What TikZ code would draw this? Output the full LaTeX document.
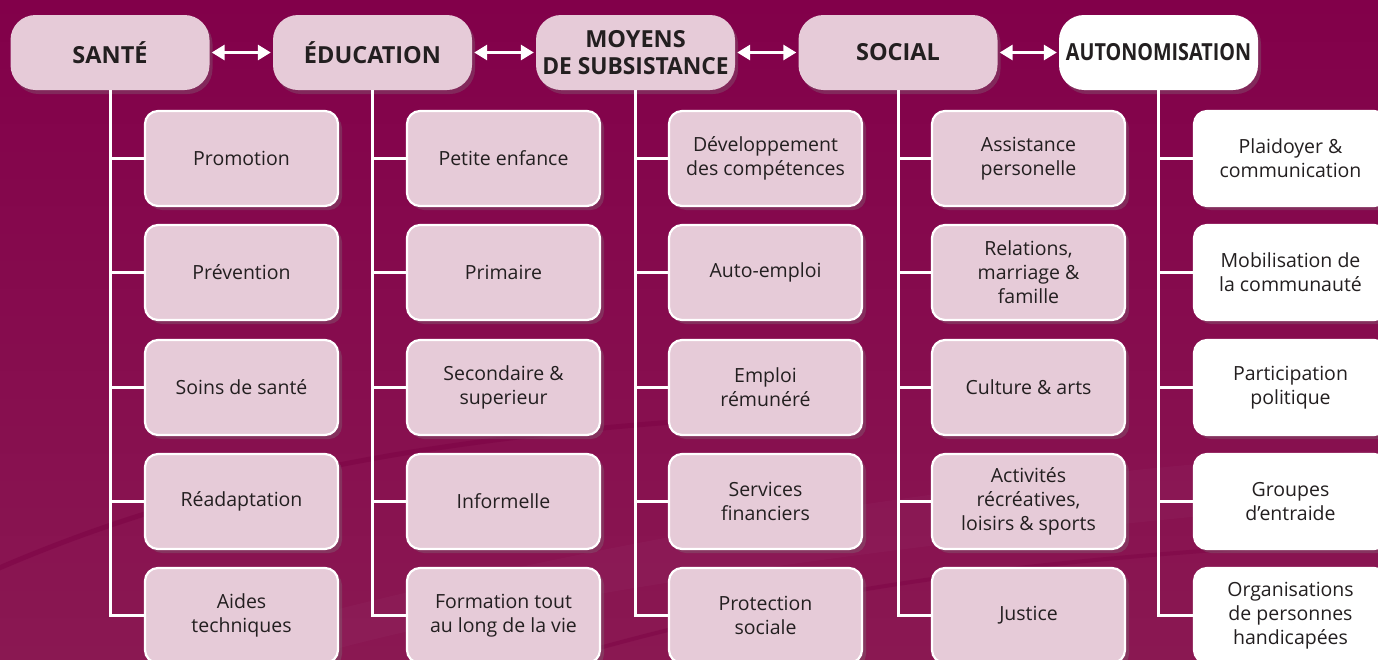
\documentclass[tikz,border=0pt]{standalone}
\usepackage{fontspec}
\setmainfont{Open Sans}
\usetikzlibrary{arrows.meta,shadows,calc}
\definecolor{bgtop}{HTML}{82004A}
\definecolor{bgbot}{HTML}{8A1852}
\definecolor{pinkbox}{HTML}{E6CBD8}
\definecolor{ink}{HTML}{231F20}
\definecolor{swoosh}{HTML}{7A0042}
\tikzset{
  headbox/.style={rounded corners=25pt, minimum width=199pt, minimum height=75pt,
    fill=pinkbox, text=ink, align=center, inner sep=0pt,
    font=\fontsize{23.5pt}{27pt}\selectfont\bfseries,
    drop shadow={opacity=0.3, shadow xshift=3pt, shadow yshift=-4pt}},
  childbox/.style={rounded corners=13pt, minimum width=193pt, minimum height=95pt,
    fill=pinkbox, draw=white, line width=2.2pt, text=ink, align=center, inner sep=0pt,
    font=\fontsize{19.5pt}{24pt}\selectfont,
    drop shadow={opacity=0.3, shadow xshift=4pt, shadow yshift=-4pt}},
  whitehead/.style={headbox, fill=white},
  whitechild/.style={childbox, fill=white},
  tree/.style={draw=white, line width=3pt},
  link/.style={draw=white, line width=3pt, {Triangle[length=13pt,width=15pt]}-{Triangle[length=13pt,width=15pt]}, shorten <=2pt, shorten >=2pt}
}
\begin{document}
\begin{tikzpicture}[x=1pt,y=-1pt]
\useasboundingbox (0,0) rectangle (1378,659);
\shade[top color=bgtop, bottom color=bgbot] (0,0) rectangle (1378,659);
% faint background swooshes
\draw[swoosh, opacity=0.45, line width=5pt] (-10,572) .. controls (200,480) and (420,440) .. (700,420);
\fill[white, opacity=0.025] (150,659) .. controls (500,560) and (900,480) .. (1378,450) -- (1378,500) .. controls (900,540) and (500,600) .. (300,659) -- cycle;
\draw[swoosh, opacity=0.4, line width=4pt] (560,659) .. controls (800,590) and (1000,560) .. (1378,540);

% headers
\node[headbox] (h1) at (110,52.5) {SANTÉ};
\node[headbox] (h2) at (372.5,52.5) {ÉDUCATION};
\node[headbox] (h3) at (635.5,52.5) {MOYENS\\\scalebox{0.97}[1]{DE SUBSISTANCE}};
\node[headbox] (h4) at (898,52.5) {SOCIAL};
\node[whitehead] (h5) at (1158.5,52.5) {\scalebox{0.84}[1]{AUTONOMISATION}};

% arrows between headers
\draw[link] (h1.east) -- (h2.west);
\draw[link] (h2.east) -- (h3.west);
\draw[link] (h3.east) -- (h4.west);
\draw[link] (h4.east) -- (h5.west);

% children
\def\ya{158.5}\def\yb{272.5}\def\yc{387.5}\def\yd{501.5}\def\ye{615.5}
\node[childbox] (c11) at (241.5,\ya) {Promotion};
\node[childbox] (c12) at (241.5,\yb) {Prévention};
\node[childbox] (c13) at (241.5,\yc) {Soins de santé};
\node[childbox] (c14) at (241.5,\yd) {Réadaptation};
\node[childbox] (c15) at (241.5,\ye) {Aides\\techniques};

\node[childbox] (c21) at (503.5,\ya) {Petite enfance};
\node[childbox] (c22) at (503.5,\yb) {Primaire};
\node[childbox] (c23) at (503.5,\yc) {Secondaire \&\\superieur};
\node[childbox] (c24) at (503.5,\yd) {Informelle};
\node[childbox] (c25) at (503.5,\ye) {Formation tout\\au long de la vie};

\node[childbox] (c31) at (765.5,\ya) {Développement\\des compétences};
\node[childbox] (c32) at (765.5,\yb) {Auto-emploi};
\node[childbox] (c33) at (765.5,\yc) {Emploi\\rémunéré};
\node[childbox] (c34) at (765.5,\yd) {Services\\financiers};
\node[childbox] (c35) at (765.5,\ye) {Protection\\sociale};

\node[childbox] (c41) at (1028.5,\ya) {Assistance\\personelle};
\node[childbox] (c42) at (1028.5,\yb) {Relations,\\marriage \&\\famille};
\node[childbox] (c43) at (1028.5,\yc) {Culture \& arts};
\node[childbox] (c44) at (1028.5,\yd) {Activités\\récréatives,\\loisirs \& sports};
\node[childbox] (c45) at (1028.5,\ye) {Justice};

\node[whitechild] (c51) at (1290.5,\ya) {Plaidoyer \&\\communication};
\node[whitechild] (c52) at (1290.5,\yb) {Mobilisation de\\la communauté};
\node[whitechild] (c53) at (1290.5,\yc) {Participation\\politique};
\node[whitechild] (c54) at (1290.5,\yd) {Groupes\\d’entraide};
\node[whitechild] (c55) at (1290.5,\ye) {Organisations\\de personnes\\handicapées};

% tree connectors
\foreach \h/\c in {h1/c1,h2/c2,h3/c3,h4/c4,h5/c5}{
  \draw[tree] (\h.south) |- (\c5.west);
  \foreach \i in {1,2,3,4}{
    \draw[tree] (\h.south |- \c\i.west) -- (\c\i.west);
  }
}
\end{tikzpicture}
\end{document}
